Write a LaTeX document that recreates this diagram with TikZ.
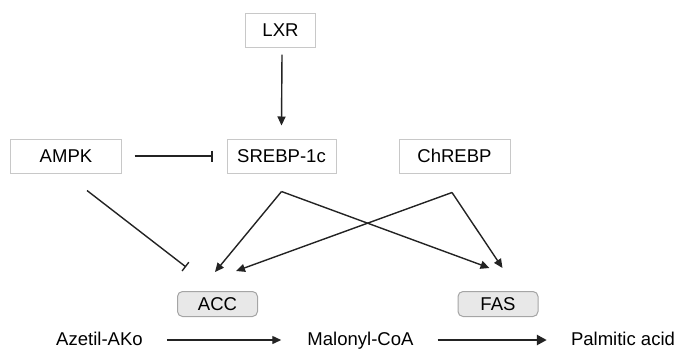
\documentclass[tikz,border=0pt]{standalone}
\usepackage{fontspec}
\setmainfont{Liberation Sans}
\usepackage{tikz}
\usetikzlibrary{arrows.meta,positioning,calc}
\definecolor{boxline}{RGB}{200,200,200}
\definecolor{enzline}{RGB}{165,165,165}
\definecolor{enzfill}{RGB}{232,232,232}
\definecolor{linkgray}{RGB}{35,35,35}

\begin{document}
\begin{tikzpicture}[x=1bp,y=-1bp,
  reg/.style={rectangle,draw=boxline,line width=1bp,fill=white,
              minimum height=34bp,font=\fontsize{18.6}{20}\selectfont,
              inner sep=0pt},
  enz/.style={reg,draw=enzline,fill=enzfill,rounded corners=5bp,
              minimum height=25bp},
  metab/.style={inner sep=0pt,text height=13bp,text depth=3bp,
                font=\fontsize{18.6}{20}\selectfont},
  act/.style={draw=linkgray,line width=1.4bp,-{Triangle[length=9bp,width=8bp]}},
  inh/.style={draw=linkgray,line width=1.4bp,-{Bar[width=11bp,line width=1.4bp]}},
  flux/.style={draw=linkgray,line width=1.4bp,-{Triangle[length=9bp,width=8bp]}},
]
\useasboundingbox (0,0) rectangle (683,349);

% regulators
\node[reg, minimum width=70bp]  (lxr)    at (280.5,30) {LXR};
\node[reg, minimum width=110bp] (ampk)   at (66,156)   {AMPK};
\node[reg, minimum width=109bp] (srebp)  at (281.5,156) {SREBP-1c};
\node[reg, minimum width=111bp] (chrebp) at (454.5,156) {ChREBP};

% enzymes
\node[enz, minimum width=80bp] (acc) at (217.5,304) {ACC};
\node[enz, minimum width=80bp] (fas) at (498,304)   {FAS};

% pathway
\node[metab] (azetil)   at (99.5,340) {Azetil-AKo};
\node[metab] (malonyl)  at (360.5,340) {Malonyl-CoA};
\node[metab] (palmitic) at (623,340)  {Palmitic acid};

% fork points and free ends
\coordinate (ampkout)   at ($(ampk.south)+(21,17)$);
\coordinate (srebpfork) at ($(srebp.south)+(0,18)$);
\coordinate (chrebpfork) at ($(chrebp.south)+(-2.5,19)$);
\coordinate (accbar)  at ($(acc.north)+(-31.5,-24)$);
\coordinate (accin1)  at ($(acc.north)+(-2.5,-19)$);
\coordinate (accin2)  at ($(acc.north)+(18.5,-20)$);
\coordinate (fasin1)  at ($(fas.north)+(-8.5,-23)$);
\coordinate (fasin2)  at ($(fas.north)+(4.5,-23)$);

% links
\draw[act] (lxr.south) ++(1.5,7) -- ($(srebp.north)+(0,-13)$);
\draw[inh, shorten <=13bp, shorten >=14bp] (ampk.east) -- (srebp.west);
\draw[inh] (ampkout) -- (accbar);
\draw[act] (srebpfork) -- (accin1);
\draw[act] (srebpfork) -- (fasin1);
\draw[act] (chrebpfork) -- (accin2);
\draw[act] (chrebpfork) -- (fasin2);

% reactions
\draw[flux, shorten <=24bp, shorten >=26bp] (azetil.east) -- (malonyl.west);
\draw[flux, line width=2.7bp, -{Triangle[length=10bp,width=10bp]},
      shorten <=24bp, shorten >=24bp] (malonyl.east) -- (palmitic.west);
\end{tikzpicture}
\end{document}
